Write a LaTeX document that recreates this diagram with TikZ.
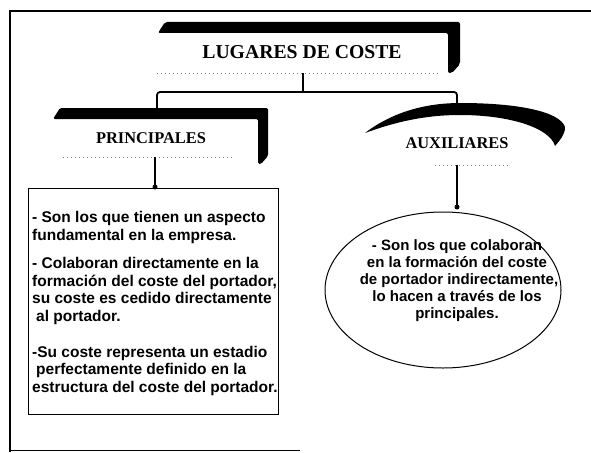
\documentclass[tikz,border=0pt]{standalone}
\usepackage{fontspec}
\setmainfont{Liberation Serif}
\newfontfamily\arialfont{Liberation Sans}
\usetikzlibrary{shapes.geometric}
\begin{document}
\begin{tikzpicture}[x=1pt,y=-1pt,
  heading/.style={font=\bfseries\fontsize{16.4}{18}\selectfont, inner sep=0pt},
  bodyline/.style={font=\arialfont\bfseries\fontsize{15.5}{17}\selectfont, inner sep=0pt},
  elline/.style={font=\arialfont\bfseries\fontsize{15}{17}\selectfont, inner sep=0pt},
  dotline/.style={gray, line width=0.8pt, dash pattern=on 1pt off 3pt},
  conn/.style={line width=1.8pt},
  blob/.style={fill=black},
]
\useasboundingbox (0,0) rectangle (591,452);
\fill[white] (0,0) rectangle (591,452);
% frame
\draw[line width=2.5pt] (591,11) -- (10,11) -- (10,452);
\draw[line width=0.8pt] (10,450.5) -- (300,450.5);

% title shape
\fill[blob, rounded corners=2pt] (158,33) -- (165,22) -- (460,22) -- (460,64) -- (452,73) -- (448,73) -- (448,33) -- cycle;
\node[font=\bfseries\fontsize{19.7}{22}\selectfont, inner sep=0pt] (title) at (302,52) {LUGARES DE COSTE};
\draw[dotline] (157,73) -- (440,73);

% principales shape
\fill[blob, rounded corners=1.5pt] (53,119) -- (60,108) -- (268,108) -- (268,156) -- (261,164) -- (258,164) -- (258,119) -- cycle;
\node[heading] (prin) at (151,138) {PRINCIPALES};
\draw[dotline] (63,157) -- (233,157);

% auxiliares arch
\fill[blob] (365,133) .. controls (395,110) and (430,103) .. (460,103)
  .. controls (520,103) and (560,112) .. (565,127)
  .. controls (565,135) and (560,140) .. (555,146)
  .. controls (550,128) and (510,115) .. (460,115)
  .. controls (425,115) and (395,122) .. (365,133) -- cycle;
\node[heading] (aux) at (457,143) {AUXILIARES};
\draw[dotline] (435,165) -- (510,165);

% connectors from title
\coordinate (tdot) at (303,73);
\coordinate (tj) at (303,92);
\coordinate (lj) at (157,92);
\coordinate (rj) at (457,92);
\coordinate (lend) at (157,108);
\coordinate (rend) at (457,104);
\draw[conn] (tdot) -- (tj);
\draw[conn, rounded corners=3pt] (lend) -- (lj) -- (rj) -- (rend);

% box
\node[draw, line width=1pt, minimum width=250pt, minimum height=226pt, anchor=north west, inner sep=0pt] (box) at (28,188) {};
\coordinate (pdot) at (155,157);
\coordinate (pend) at (155,187);
\draw[line width=1.5pt] (pdot) -- (pend);
\fill (pend) circle (2.5pt);

\node[bodyline, anchor=base west] (b1) at (32,222.5) {- Son los que tienen un aspecto};
\node[bodyline, anchor=base west] (b2) at (32,240.5) {fundamental en la empresa.};
\node[bodyline, anchor=base west] (b3) at (32,268.5) {- Colaboran directamente en la};
\node[bodyline, anchor=base west] (b4) at (32,286.5) {formación del coste del portador,};
\node[bodyline, anchor=base west] (b5) at (32,303.5) {su coste es cedido directamente};
\node[bodyline, anchor=base west] (b6) at (36,321.5) {al portador.};
\node[bodyline, anchor=base west] (b7) at (32,357.5) {-Su coste representa un estadio};
\node[bodyline, anchor=base west] (b8) at (36,374.5) {perfectamente definido en la};
\node[bodyline, anchor=base west] (b9) at (32,392.5) {estructura del coste del portador.};

% ellipse
\node[draw, ellipse, line width=1pt, minimum width=236pt, minimum height=156pt, inner sep=0pt] (ell) at (443,290) {};
\coordinate (adot) at (457,165);
\coordinate (aend) at (457,207);
\draw[line width=1.5pt] (adot) -- (aend);
\fill (aend) circle (2.5pt);

\node[elline, anchor=base] (e1) at (457,250.5) {- Son los que colaboran};
\node[elline, anchor=base] (e2) at (457,267.5) {en la formación del coste};
\node[elline, anchor=base] (e3) at (459,284.5) {de portador indirectamente,};
\node[elline, anchor=base] (e4) at (457,301.5) {lo hacen a través de los};
\node[elline, anchor=base] (e5) at (457,318.5) {principales.};
\end{tikzpicture}
\end{document}
